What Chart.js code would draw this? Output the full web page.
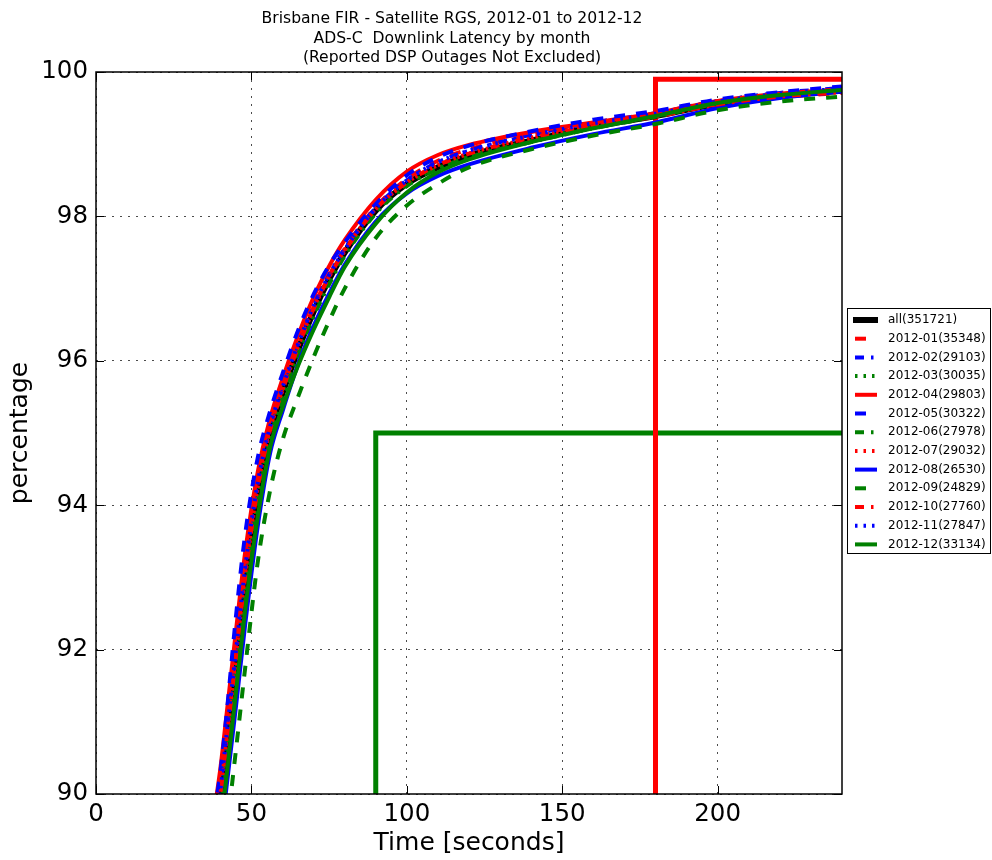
<!doctype html>
<html lang="en">
<head>
<meta charset="utf-8">
<title>Brisbane FIR - ADS-C Downlink Latency by month</title>
<style>
  * { margin: 0; padding: 0; }
  body { background: #fff; }
  .chartBox { width: 992px; height: 860px; }
</style>
</head>
<body>
<div class="chartBox"><canvas id="myChart" width="992" height="860"></canvas></div>
<script src="https://cdn.jsdelivr.net/npm/chart.js"></script>
<script>
// data (time in seconds, cumulative percentage)
const titleLines = [
  'Brisbane FIR - Satellite RGS, 2012-01 to 2012-12',
  'ADS-C  Downlink Latency by month',
  '(Reported DSP Outages Not Excluded)'
];
const seriesLabels = ['all(351721)', '2012-01(35348)', '2012-02(29103)', '2012-03(30035)',
  '2012-04(29803)', '2012-05(30322)', '2012-06(27978)', '2012-07(29032)', '2012-08(26530)',
  '2012-09(24829)', '2012-10(27760)', '2012-11(27847)', '2012-12(33134)'];

const timeSec = [38, 40, 42, 45, 48, 52, 56, 60, 65, 70, 75, 80, 90, 100, 110, 120, 140, 160, 180, 200, 220, 240];

const pctAll = [89.3, 89.85, 90.6, 91.75, 92.9, 94.15, 95.0, 95.55, 96.15, 96.68, 97.13, 97.5, 98.08, 98.45, 98.68, 98.84, 99.05, 99.24, 99.39, 99.56, 99.67, 99.74];
const pct01 = [89.45, 90.0, 90.78, 91.95, 93.1, 94.3, 95.08, 95.62, 96.22, 96.74, 97.18, 97.55, 98.13, 98.52, 98.77, 98.93, 99.13, 99.27, 99.39, 99.55, 99.65, 99.71];
const pct02 = [89.55, 90.12, 90.9, 92.05, 93.2, 94.35, 95.12, 95.65, 96.25, 96.78, 97.2, 97.55, 98.12, 98.5, 98.75, 98.91, 99.13, 99.3, 99.43, 99.6, 99.71, 99.78];
const pct03 = [89.2, 89.75, 90.5, 91.65, 92.8, 94.07, 94.95, 95.51, 96.11, 96.64, 97.1, 97.48, 98.06, 98.44, 98.67, 98.83, 99.05, 99.24, 99.39, 99.57, 99.68, 99.75];
const pct04 = [89.75, 90.35, 91.1, 92.25, 93.35, 94.45, 95.2, 95.75, 96.35, 96.88, 97.31, 97.67, 98.23, 98.62, 98.85, 98.99, 99.17, 99.3, 99.43, 99.6, 99.7, 99.76];
const pct05 = [89.72, 90.3, 91.1, 92.45, 93.6, 94.65, 95.3, 95.82, 96.42, 96.92, 97.32, 97.64, 98.17, 98.57, 98.82, 98.98, 99.18, 99.34, 99.46, 99.62, 99.72, 99.8];
const pct06 = [89.1, 89.65, 90.4, 91.53, 92.67, 94.0, 94.9, 95.47, 96.08, 96.61, 97.06, 97.45, 98.04, 98.42, 98.66, 98.82, 99.03, 99.22, 99.38, 99.56, 99.67, 99.74];
const pct07 = [89.45, 90.0, 90.75, 91.9, 93.05, 94.25, 95.06, 95.6, 96.2, 96.73, 97.17, 97.53, 98.1, 98.47, 98.71, 98.87, 99.08, 99.26, 99.4, 99.57, 99.68, 99.74];
const pct08 = [88.85, 89.35, 90.1, 91.2, 92.35, 93.7, 94.72, 95.3, 95.95, 96.48, 96.93, 97.33, 97.93, 98.32, 98.56, 98.72, 98.95, 99.14, 99.3, 99.5, 99.64, 99.73];
const pct09 = [88.3, 88.9, 89.5, 90.6, 91.75, 93.2, 94.2, 94.9, 95.5, 96.05, 96.55, 97.0, 97.7, 98.15, 98.45, 98.68, 98.93, 99.12, 99.28, 99.47, 99.59, 99.66];
const pct10 = [89.4, 89.95, 90.7, 91.85, 93.0, 94.23, 95.04, 95.59, 96.19, 96.72, 97.16, 97.52, 98.1, 98.47, 98.71, 98.87, 99.09, 99.25, 99.38, 99.55, 99.66, 99.72];
const pct11 = [89.5, 90.05, 90.82, 91.97, 93.13, 94.3, 95.09, 95.63, 96.23, 96.76, 97.19, 97.54, 98.11, 98.5, 98.75, 98.91, 99.12, 99.29, 99.42, 99.59, 99.7, 99.77];
const pct12 = [88.95, 89.5, 90.25, 91.4, 92.55, 93.83, 94.8, 95.35, 95.93, 96.43, 96.88, 97.3, 97.9, 98.33, 98.61, 98.79, 99.03, 99.22, 99.39, 99.57, 99.68, 99.75];

// requirement lines (step shapes)
const redLimitX = [180, 180, 240];
const redLimitY = [90, 99.9, 99.9];
const greenLimitX = [90, 90, 240];
const greenLimitY = [90, 95, 95];

const xTicksMin = 0, xTicksMax = 240, xStep = 50;
const yTicksMin = 90, yTicksMax = 100, yStep = 2;

// styles
const monthSeries = [pct01, pct02, pct03, pct04, pct05, pct06, pct07, pct08, pct09, pct10, pct11, pct12];
const colorCycle = ['#ff0000', '#0000ff', '#008000'];
const dashCycle = [[11, 11], [9, 7, 2.5, 7], [2.5, 6], []];

function toPoints(xs, ys) {
  return xs.map((x, i) => ({x: x, y: ys[i]}));
}

Chart.defaults.font.family = '"DejaVu Sans", sans-serif';
Chart.defaults.color = '#000';

const datasets = [];
datasets.push({
  label: seriesLabels[0],
  data: toPoints(timeSec, pctAll),
  borderColor: '#000',
  borderWidth: 6,
  borderDash: [],
  order: 13
});
monthSeries.forEach((vals, i) => {
  datasets.push({
    label: seriesLabels[i + 1],
    data: toPoints(timeSec, vals),
    borderColor: colorCycle[i % 3],
    borderWidth: 4,
    borderDash: dashCycle[i % 4],
    order: 12 - i
  });
});
datasets.push({
  label: '',
  data: toPoints(redLimitX, redLimitY),
  borderColor: '#ff0000',
  borderWidth: 5,
  borderDash: [],
  cubicInterpolationMode: 'default',
  tension: 0,
  order: 14
});
datasets.push({
  label: '',
  data: toPoints(greenLimitX, greenLimitY),
  borderColor: '#008000',
  borderWidth: 5,
  borderDash: [],
  cubicInterpolationMode: 'default',
  tension: 0,
  order: 15
});

// title drawn over the axes
const titleText = {
  id: 'titleText',
  afterDraw(chart) {
    const ctx = chart.ctx;
    ctx.save();
    ctx.fillStyle = '#000';
    ctx.font = '15.6px "DejaVu Sans"';
    ctx.textAlign = 'center';
    ctx.textBaseline = 'alphabetic';
    titleLines.forEach((t, i) => ctx.fillText(t, 452, 23 + i * 19.5));
    ctx.restore();
  }
};

// box round the axes and inward tick marks
const axesFrame = {
  id: 'axesFrame',
  afterDatasetsDraw(chart) {
    const {ctx, chartArea: a, scales} = chart;
    ctx.save();
    ctx.strokeStyle = '#000';
    ctx.lineWidth = 1;
    ctx.beginPath();
    scales.x.ticks.forEach(t => {
      const px = Math.round(scales.x.getPixelForValue(t.value)) + 0.5;
      ctx.moveTo(px, a.bottom); ctx.lineTo(px, a.bottom - 8);
      ctx.moveTo(px, a.top); ctx.lineTo(px, a.top + 8);
    });
    scales.y.ticks.forEach(t => {
      const py = Math.round(scales.y.getPixelForValue(t.value)) + 0.5;
      ctx.moveTo(a.left, py); ctx.lineTo(a.left + 8, py);
      ctx.moveTo(a.right, py); ctx.lineTo(a.right - 8, py);
    });
    ctx.stroke();
    ctx.lineWidth = 1.5;
    ctx.strokeRect(a.left, a.top, a.right - a.left, a.bottom - a.top);
    ctx.restore();
  }
};

// legend box outside the axes, to the right
const boxLegend = {
  id: 'boxLegend',
  afterDraw(chart) {
    const {ctx, chartArea} = chart;
    const items = chart.data.datasets.filter(ds => ds.label);
    const left = chartArea.right + 5;
    const top = chartArea.top + 236;
    const rowH = 18.7;
    const height = 20.6 + (items.length - 1) * rowH;
    ctx.save();
    ctx.fillStyle = '#fff';
    ctx.fillRect(left, top, 144, height);
    ctx.strokeStyle = '#000';
    ctx.lineWidth = 1;
    ctx.strokeRect(left + 0.5, top + 0.5, 143, height);
    ctx.font = '12px "DejaVu Sans"';
    ctx.textBaseline = 'middle';
    items.forEach((ds, i) => {
      const y = top + 12 + i * rowH;
      ctx.beginPath();
      ctx.strokeStyle = ds.borderColor;
      ctx.lineWidth = ds.borderWidth;
      ctx.setLineDash(ds.borderDash);
      if (i === 0) { ctx.moveTo(left + 6, y); ctx.lineTo(left + 31, y); }
      else { ctx.moveTo(left + 8, y); ctx.lineTo(left + 30, y); }
      ctx.stroke();
      ctx.setLineDash([]);
      ctx.fillStyle = '#000';
      ctx.fillText(ds.label, left + 41, y);
    });
    ctx.restore();
  }
};

const config = {
  type: 'line',
  data: { datasets },
  options: {
    responsive: false,
    animation: false,
    devicePixelRatio: 1,
    events: [],
    clip: 0,
    layout: { padding: { top: 72, right: 150, left: 0, bottom: 0 } },
    elements: {
      point: { radius: 0, hitRadius: 0 },
      line: { cubicInterpolationMode: 'monotone', borderCapStyle: 'butt', fill: false }
    },
    plugins: {
      legend: { display: false },
      title: { display: false },
      tooltip: { enabled: false }
    },
    scales: {
      x: {
        type: 'linear',
        min: xTicksMin,
        max: xTicksMax,
        afterFit: s => { s.height = 66; },
        ticks: { stepSize: xStep, includeBounds: false, maxRotation: 0, autoSkip: false, padding: 6, font: { size: 24.5 } },
        grid: { color: 'rgba(0,0,0,0.7)', lineWidth: 1, drawTicks: false },
        border: { display: false, dash: [2, 6] },
        title: { display: true, text: 'Time [seconds]', font: { size: 25 }, padding: { top: 0, bottom: 2 } }
      },
      y: {
        type: 'linear',
        min: yTicksMin,
        max: yTicksMax,
        afterFit: s => { s.width = 96; },
        ticks: { stepSize: yStep, padding: 8, font: { size: 24.5 } },
        grid: { color: 'rgba(0,0,0,0.7)', lineWidth: 1, drawTicks: false },
        border: { display: false, dash: [2, 6] },
        title: { display: true, text: 'percentage', font: { size: 25 }, padding: { top: 5, bottom: 0 } }
      }
    }
  },
  plugins: [titleText, axesFrame, boxLegend]
};

const myChart = new Chart(document.getElementById('myChart'), config);
</script>
</body>
</html>
